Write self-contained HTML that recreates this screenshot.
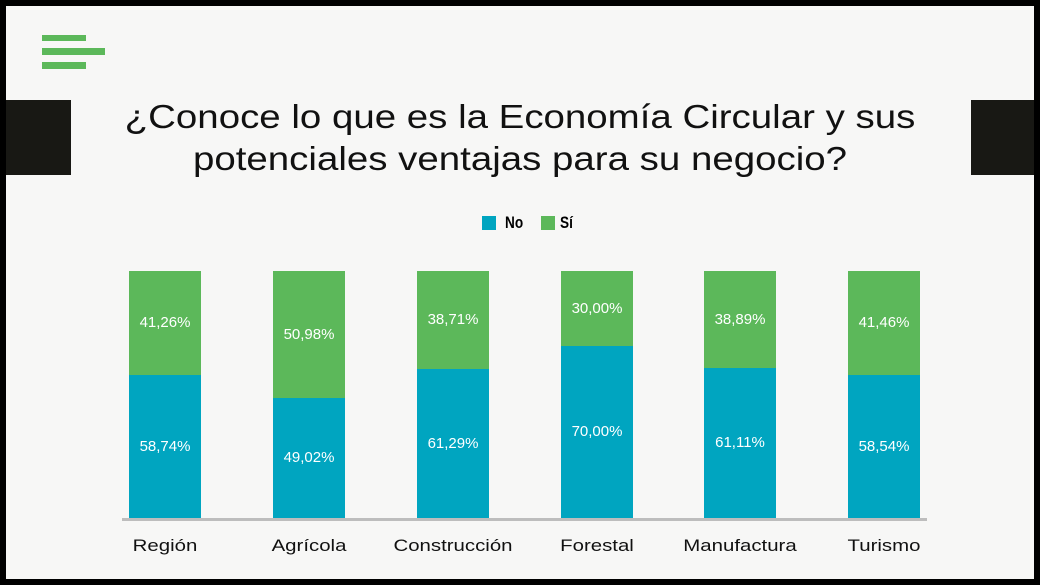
<!DOCTYPE html>
<html><head><meta charset="utf-8"><style>
body{margin:0;width:1040px;height:585px;overflow:hidden;background:#000;}
#p{position:absolute;left:6px;top:6px;width:1028px;height:573px;background:#f7f7f6;}
.a{position:absolute}
.t{font-family:"Liberation Sans",sans-serif;}
.bar{position:absolute;width:72px;}
.lb{position:absolute;width:72px;text-align:center;color:#fff;font:15px "Liberation Sans",sans-serif;}
.cat{position:absolute;width:140px;text-align:center;font:17px "Liberation Sans",sans-serif;color:#111;top:536px;transform:scaleX(1.2);}
</style></head><body>
<div id="p"></div>
<div class="a" style="left:42px;top:35px;width:44px;height:6px;background:#5cb85a"></div>
<div class="a" style="left:42px;top:48px;width:63px;height:7px;background:#5cb85a"></div>
<div class="a" style="left:42px;top:62px;width:44px;height:7px;background:#5cb85a"></div>
<div class="a" style="left:6px;top:100px;width:65px;height:75px;background:#181814"></div>
<div class="a" style="left:971px;top:100px;width:63px;height:75px;background:#181814"></div>
<div class="a t" style="left:0;width:1040px;top:96px;text-align:center;font-size:33px;line-height:42px;color:#111;transform:scaleX(1.165)">¿Conoce lo que es la Economía Circular y sus<br>potenciales ventajas para su negocio?</div>
<div class="a" style="left:482px;top:216px;width:14px;height:14px;background:#00a5c0"></div>
<div class="a t" style="left:505px;top:213px;font-size:17px;font-weight:bold;transform:scaleX(0.8);transform-origin:left">No</div>
<div class="a" style="left:541px;top:216px;width:14px;height:14px;background:#5cb85a"></div>
<div class="a t" style="left:560px;top:213px;font-size:17px;font-weight:bold;transform:scaleX(0.8);transform-origin:left">Sí</div>
<div class="a" style="left:122px;top:518px;width:805px;height:3px;background:#bdbdbd"></div>
<div id="bars"></div>
<script>
var d=[["Región",129,375,"41,26%","58,74%"],["Agrícola",273,398,"50,98%","49,02%"],["Construcción",417,369,"38,71%","61,29%"],["Forestal",561,346,"30,00%","70,00%"],["Manufactura",704,368,"38,89%","61,11%"],["Turismo",848,375,"41,46%","58,54%"]];
var h="";d.forEach(function(r){var x=r[1],s=r[2];
h+='<div class="bar" style="left:'+x+'px;top:271px;height:'+(s-271)+'px;background:#5cb85a"></div>';
h+='<div class="bar" style="left:'+x+'px;top:'+s+'px;height:'+(518-s)+'px;background:#00a5c0"></div>';
h+='<div class="lb" style="left:'+x+'px;top:'+((271+s)/2-9)+'px">'+r[3]+'</div>';
h+='<div class="lb" style="left:'+x+'px;top:'+((s+518)/2-9)+'px">'+r[4]+'</div>';
h+='<div class="cat" style="left:'+(x-34)+'px">'+r[0]+'</div>';});
document.getElementById("bars").innerHTML=h;
</script>
</body></html>
